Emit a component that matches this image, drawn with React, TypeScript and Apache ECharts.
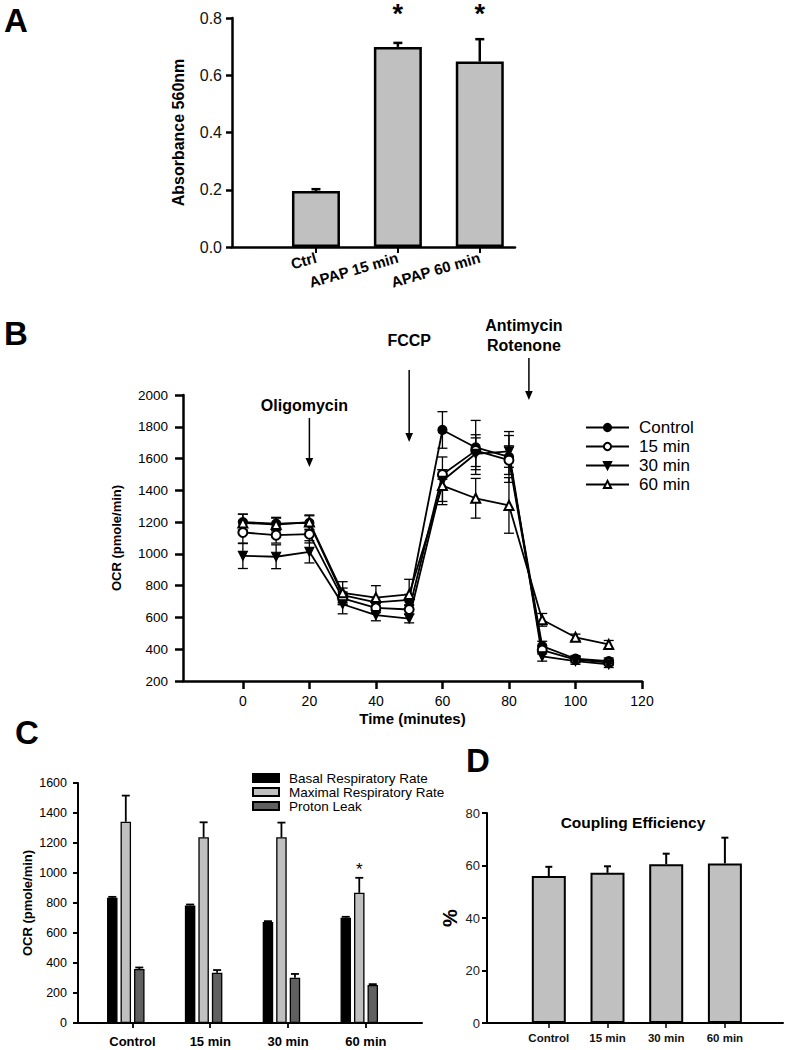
import React, { useEffect, useRef } from 'react';
import * as echarts from 'echarts';

const FONT = '"Liberation Sans", Arial, Helvetica, sans-serif';

// ---------------- Panel A : absorbance ----------------
const categoriesA = ['Ctrl', 'APAP 15 min', 'APAP 60 min'];
const positionsA = [1, 2, 3];
const absorbanceA = [0.196, 0.699, 0.648];
const absorbanceErrA = [0.006, 0.014, 0.078];
const significantA = [false, true, true];

// ---------------- Panel B : OCR time course ----------------
const timeB = [0, 10, 20, 30, 40, 50, 60, 70, 80, 90, 100, 110];
const controlB = [1200, 1190, 1195, 740, 695, 710, 1780, 1670, 1610, 420, 340, 325];
const controlErrB = [50, 40, 45, 45, 30, 35, 115, 170, 160, 30, 20, 20];
const min15B = [1135, 1118, 1124, 720, 660, 650, 1500, 1650, 1590, 395, 335, 315];
const min15ErrB = [70, 50, 55, 40, 30, 30, 30, 100, 90, 25, 20, 15];
const min30B = [988, 982, 1013, 683, 614, 593, 1460, 1630, 1645, 355, 325, 305];
const min30ErrB = [80, 75, 70, 60, 35, 27, 150, 100, 100, 30, 20, 20];
const min60B = [1195, 1185, 1200, 755, 725, 745, 1430, 1350, 1305, 585, 475, 430];
const min60ErrB = [55, 40, 45, 70, 75, 95, 100, 125, 175, 40, 20, 25];
const seriesNamesB = ['Control', '15 min', '30 min', '60 min'];
const ticksB = [0, 20, 40, 60, 80, 100, 120];
// injections (in data units)
const injLabelsB = ['Oligomycin', 'FCCP', 'Antimycin\nRotenone'];
const injTimeB = [20, 50, 86];
const injLabelTimeB = [18.5, 50, 84.5];
const injLabelValueB = [1931, 2346, 2377];
const injArrowTopB = [1855, 2157, 2233];
const injArrowBottomB = [1547, 1704, 1969];

// ---------------- Panel C : respiration parameters ----------------
const categoriesC = ['Control', '15 min', '30 min', '60 min'];
const positionsC = [0, 1, 2, 3];
const seriesNamesC = ['Basal Respiratory Rate', 'Maximal Respiratory Rate', 'Proton Leak'];
const basalC = [835, 784, 673, 702];
const basalErrC = [6, 6, 6, 6];
const maximalC = [1342, 1238, 1238, 868];
const maximalErrC = [174, 100, 98, 100];
const protonC = [360, 335, 302, 253];
const protonErrC = [10, 18, 25, 6];
const significantMaximalC = [false, false, false, true];

// ---------------- Panel D : coupling efficiency ----------------
const categoriesD = ['Control', '15 min', '30 min', '60 min'];
const positionsD = [0, 1, 2, 3];
const couplingD = [56, 57.2, 60.5, 60.8];
const couplingErrD = [3.5, 2.5, 4, 9.8];

// ---------------- styles ----------------
const BLACK = '#000';
const GREY = '#c0c0c0';
const DARK = '#606060';
const C_BAR_W = 10.5;
const C_BAR_GAP = 0.286;
const C_LABEL_SHIFT = 0.085;

function axisStyle(width: number, tickLen: number) {
  return {
    axisLine: { show: true, onZero: false, lineStyle: { color: BLACK, width } },
    axisTick: { show: true, length: tickLen, lineStyle: { color: BLACK, width } },
    splitLine: { show: false },
  };
}

function upErr(cap: number, lw: number, offset: number, stars?: boolean[], starFont?: number, starGap?: number) {
  return (params: any, api: any) => {
    const x = api.value(0);
    const v = api.value(1);
    const e = api.value(2);
    const top = api.coord([x, v + e]);
    const base = api.coord([x, v]);
    const cx = top[0] + offset;
    const children: any[] = [
      { type: 'line', shape: { x1: cx, y1: base[1], x2: cx, y2: top[1] }, style: { stroke: BLACK, lineWidth: lw } },
      { type: 'line', shape: { x1: cx - cap / 2, y1: top[1], x2: cx + cap / 2, y2: top[1] }, style: { stroke: BLACK, lineWidth: lw } },
    ];
    if (stars && stars[params.dataIndex]) {
      children.push({
        type: 'text',
        style: {
          text: '*', x: cx, y: top[1] - (starGap || 0), align: 'center', verticalAlign: 'middle',
          fontSize: starFont, fontFamily: FONT, fill: BLACK,
        },
      });
    }
    return { type: 'group', children };
  };
}

function bothErr(cap: number, lw: number) {
  return (params: any, api: any) => {
    const x = api.value(0);
    const v = api.value(1);
    const e = api.value(2);
    const hi = api.coord([x, v + e]);
    const lo = api.coord([x, v - e]);
    const cx = hi[0];
    return {
      type: 'group',
      children: [
        { type: 'line', shape: { x1: cx, y1: lo[1], x2: cx, y2: hi[1] }, style: { stroke: BLACK, lineWidth: lw } },
        { type: 'line', shape: { x1: cx - cap / 2, y1: hi[1], x2: cx + cap / 2, y2: hi[1] }, style: { stroke: BLACK, lineWidth: lw } },
        { type: 'line', shape: { x1: cx - cap / 2, y1: lo[1], x2: cx + cap / 2, y2: lo[1] }, style: { stroke: BLACK, lineWidth: lw } },
      ],
    };
  };
}

const plain = (v: number) => String(v);

export default function App() {
  const ref = useRef<HTMLDivElement>(null);

  useEffect(() => {
    if (!ref.current) return;
    const chart = echarts.init(ref.current, undefined, { renderer: 'svg' });

    const bValues = [controlB, min15B, min30B, min60B];
    const bErrs = [controlErrB, min15ErrB, min30ErrB, min60ErrB];
    const bSymbols = ['circle', 'emptyCircle', 'triangle', 'emptyTriangle'];
    const bRot = [0, 0, 180, 0];

    const lineSeries = seriesNamesB.map((name, k) => ({
      name,
      type: 'line',
      xAxisIndex: 1,
      yAxisIndex: 1,
      data: timeB.map((t, i) => [t, bValues[k][i]]),
      symbol: bSymbols[k],
      symbolRotate: bRot[k],
      symbolSize: 9,
      showSymbol: true,
      lineStyle: { color: BLACK, width: 1.8 },
      itemStyle: { color: BLACK, borderColor: BLACK, borderWidth: 1.2 },
      z: 5,
    }));
    const lineErrSeries = seriesNamesB.map((name, k) => ({
      type: 'custom',
      xAxisIndex: 1,
      yAxisIndex: 1,
      data: timeB.map((t, i) => [t, bValues[k][i], bErrs[k][i]]),
      renderItem: bothErr(10, 1.3),
      z: 3,
      silent: true,
    }));

    const cVals = [basalC, maximalC, protonC];
    const cErrs = [basalErrC, maximalErrC, protonErrC];
    const cColors = [BLACK, GREY, DARK];
    const cStep = C_BAR_W * (1 + C_BAR_GAP);
    const cBars = seriesNamesC.map((name, k) => ({
      name,
      type: 'bar',
      xAxisIndex: 2,
      yAxisIndex: 2,
      data: positionsC.map((p, i) => [p, cVals[k][i]]),
      barWidth: C_BAR_W,
      barGap: `${C_BAR_GAP * 100}%`,
      itemStyle: { color: cColors[k], borderColor: BLACK, borderWidth: 1.3 },
      z: 2,
    }));
    const cErrSeries = seriesNamesC.map((name, k) => ({
      type: 'custom',
      xAxisIndex: 2,
      yAxisIndex: 2,
      data: positionsC.map((p, i) => [p, cVals[k][i], cErrs[k][i]]),
      renderItem: upErr(8, 1.8, (k - 1) * cStep, k === 1 ? significantMaximalC : undefined, 17, 8),
      z: 4,
      silent: true,
    }));

    const option: any = {
      animation: false,
      backgroundColor: '#fff',
      textStyle: { fontFamily: FONT, color: BLACK },
      grid: [
        { left: 232, top: 18, width: 283, height: 229, outerBoundsMode: 'none' },
        { left: 183, top: 395, width: 459, height: 286, outerBoundsMode: 'none' },
        { left: 78, top: 783, width: 344, height: 240, outerBoundsMode: 'none' },
        { left: 487, top: 813, width: 296, height: 210, outerBoundsMode: 'none' },
      ],
      xAxis: [
        {
          gridIndex: 0, type: 'value', min: -0.025, max: 3.43,
          ...axisStyle(2.5, 6),
          axisTick: { show: true, length: 6, customValues: positionsA, lineStyle: { color: BLACK, width: 2 } },
          axisLabel: {
            customValues: positionsA,
            formatter: (v: number) => categoriesA[positionsA.indexOf(Math.round(v))] ?? '',
            rotate: 16, fontSize: 15, fontWeight: 'bold', color: BLACK, fontFamily: FONT, margin: 10,
          },
        },
        {
          gridIndex: 1, type: 'value', min: -18, max: 120,
          ...axisStyle(2.5, 8),
          axisTick: { show: true, length: 8, customValues: ticksB, lineStyle: { color: BLACK, width: 2.5 } },
          axisLabel: { customValues: ticksB, formatter: plain, fontSize: 14, color: BLACK, fontFamily: FONT, margin: 13 },
          name: 'Time (minutes)', nameLocation: 'middle', nameGap: 30, nameMoveOverlap: false,
          nameTextStyle: { fontSize: 15, fontWeight: 'bold', color: BLACK, fontFamily: FONT },
        },
        {
          gridIndex: 2, type: 'value', min: -0.614, max: 3.806,
          ...axisStyle(2, 5),
          axisTick: { show: true, length: 5, customValues: positionsC.map((p) => p + C_LABEL_SHIFT), lineStyle: { color: BLACK, width: 1.8 } },
          axisLabel: {
            customValues: positionsC.map((p) => p + C_LABEL_SHIFT),
            formatter: (v: number) => categoriesC[Math.round(v - C_LABEL_SHIFT)] ?? '',
            fontSize: 13, fontWeight: 'bold', color: BLACK, fontFamily: FONT, margin: 12,
          },
        },
        {
          gridIndex: 3, type: 'value', min: -1.053, max: 3.99,
          ...axisStyle(2, 5),
          axisTick: { show: true, length: 5, customValues: positionsD, lineStyle: { color: BLACK, width: 1.5 } },
          axisLabel: {
            customValues: positionsD,
            formatter: (v: number) => categoriesD[Math.round(v)] ?? '',
            fontSize: 11.5, fontWeight: 'bold', color: '#111', fontFamily: FONT, margin: 9,
          },
        },
      ],
      yAxis: [
        {
          gridIndex: 0, type: 'value', min: 0, max: 0.8, interval: 0.2,
          ...axisStyle(2.5, 6),
          axisLabel: { formatter: (v: number) => v.toFixed(1), fontSize: 16, color: '#111', fontFamily: FONT, margin: 10 },
          name: 'Absorbance 560nm', nameLocation: 'middle', nameGap: 46, nameRotate: 90, nameMoveOverlap: false,
          nameTextStyle: { fontSize: 16, fontWeight: 'bold', color: BLACK, fontFamily: FONT },
        },
        {
          gridIndex: 1, type: 'value', min: 200, max: 2000, interval: 200,
          ...axisStyle(2.5, 8),
          axisLabel: { formatter: plain, fontSize: 13.5, color: BLACK, fontFamily: FONT, margin: 15 },
          name: 'OCR (pmole/min)', nameLocation: 'middle', nameGap: 60, nameRotate: 90, nameMoveOverlap: false,
          nameTextStyle: { fontSize: 13, fontWeight: 'bold', color: BLACK, fontFamily: FONT },
        },
        {
          gridIndex: 2, type: 'value', min: 0, max: 1600, interval: 200,
          ...axisStyle(2, 5),
          axisLabel: { formatter: plain, fontSize: 12.5, color: BLACK, fontFamily: FONT, margin: 11 },
          name: 'OCR (pmole/min)', nameLocation: 'middle', nameGap: 44, nameRotate: 90, nameMoveOverlap: false,
          nameTextStyle: { fontSize: 13, fontWeight: 'bold', color: BLACK, fontFamily: FONT },
        },
        {
          gridIndex: 3, type: 'value', min: 0, max: 80, interval: 20,
          ...axisStyle(2, 5),
          axisLabel: { formatter: plain, fontSize: 13, color: '#222', fontFamily: FONT, margin: 7 },
          name: '%', nameLocation: 'middle', nameGap: 27, nameRotate: 90, nameMoveOverlap: false,
          nameTextStyle: { fontSize: 20, fontWeight: 'bold', color: BLACK, fontFamily: FONT },
        },
      ],
      legend: [
        {
          data: seriesNamesB, orient: 'vertical', left: 580, top: 413,
          itemWidth: 43, itemHeight: 9, itemGap: 0, selectedMode: false,
          textStyle: { fontSize: 17, lineHeight: 19, color: BLACK, fontFamily: FONT, padding: [0, 0, 0, 5] },
        },
        {
          data: seriesNamesC, orient: 'vertical', left: 247, top: 766, icon: 'rect',
          itemWidth: 26, itemHeight: 8, itemGap: 0, selectedMode: false,
          textStyle: { fontSize: 13.5, lineHeight: 13, color: BLACK, fontFamily: FONT, padding: [0, 0, 0, 5] },
        },
      ],
      graphic: [
        { type: 'text', x: 4, y: 20, style: { text: 'A', fontSize: 33, fontWeight: 'bold', fontFamily: FONT, fill: BLACK, verticalAlign: 'middle' } },
        { type: 'text', x: 4, y: 333, style: { text: 'B', fontSize: 33, fontWeight: 'bold', fontFamily: FONT, fill: BLACK, verticalAlign: 'middle' } },
        { type: 'text', x: 15, y: 732, style: { text: 'C', fontSize: 33, fontWeight: 'bold', fontFamily: FONT, fill: BLACK, verticalAlign: 'middle' } },
        { type: 'text', x: 466, y: 760, style: { text: 'D', fontSize: 33, fontWeight: 'bold', fontFamily: FONT, fill: BLACK, verticalAlign: 'middle' } },
        { type: 'text', x: 633, y: 822, style: { text: 'Coupling Efficiency', fontSize: 15.5, fontWeight: 'bold', fontFamily: FONT, fill: BLACK, align: 'center', verticalAlign: 'middle' } },
      ],
      series: [
        // Panel A
        {
          type: 'bar', xAxisIndex: 0, yAxisIndex: 0,
          data: positionsA.map((p, i) => [p, absorbanceA[i]]),
          barWidth: 48,
          itemStyle: { color: GREY, borderColor: BLACK, borderWidth: 2.5 },
          z: 2,
        },
        {
          type: 'custom', xAxisIndex: 0, yAxisIndex: 0, silent: true, z: 4,
          data: positionsA.map((p, i) => [p, absorbanceA[i], absorbanceErrA[i]]),
          renderItem: (params: any, api: any) => {
            const g: any = upErr(9, 2.5, 0)(params, api);
            if (significantA[params.dataIndex]) {
              const top = api.coord([api.value(0), 0.8]);
              g.children.push({
                type: 'text',
                style: { text: '*', x: top[0], y: top[1] - 4, align: 'center', verticalAlign: 'middle', fontSize: 27, fontWeight: 'bold', fontFamily: FONT, fill: BLACK },
              });
            }
            return g;
          },
        },
        // Panel B
        ...lineErrSeries,
        ...lineSeries,
        {
          type: 'custom', xAxisIndex: 1, yAxisIndex: 1, silent: true, z: 6,
          data: injTimeB.map((t, i) => [t, injArrowTopB[i], injArrowBottomB[i], injLabelTimeB[i], injLabelValueB[i]]),
          renderItem: (params: any, api: any) => {
            const top = api.coord([api.value(0), api.value(1)]);
            const bot = api.coord([api.value(0), api.value(2)]);
            const lab = api.coord([api.value(3), api.value(4)]);
            return {
              type: 'group',
              children: [
                { type: 'line', shape: { x1: top[0], y1: top[1], x2: bot[0], y2: bot[1] - 7 }, style: { stroke: BLACK, lineWidth: 1.5 } },
                { type: 'polygon', shape: { points: [[bot[0] - 3.8, bot[1] - 9], [bot[0] + 3.8, bot[1] - 9], [bot[0], bot[1]]] }, style: { fill: BLACK } },
                {
                  type: 'text',
                  style: {
                    text: injLabelsB[params.dataIndex], x: lab[0], y: lab[1], align: 'center', verticalAlign: 'middle',
                    fontSize: 16, fontWeight: 'bold', fontFamily: FONT, fill: BLACK, lineHeight: 20,
                  },
                },
              ],
            };
          },
        },
        // Panel C
        ...cBars,
        ...cErrSeries,
        // Panel D
        {
          type: 'bar', xAxisIndex: 3, yAxisIndex: 3,
          data: positionsD.map((p, i) => [p, couplingD[i]]),
          barWidth: 34,
          itemStyle: { color: GREY, borderColor: BLACK, borderWidth: 2 },
          z: 2,
        },
        {
          type: 'custom', xAxisIndex: 3, yAxisIndex: 3, silent: true, z: 4,
          data: positionsD.map((p, i) => [p, couplingD[i], couplingErrD[i]]),
          renderItem: upErr(7, 2, 0),
        },
      ],
    };

    chart.setOption(option);
    return () => chart.dispose();
  }, []);

  return (
    <div
      ref={ref}
      style={{ position: 'absolute', left: 0, top: 0, width: 789, height: 1050, background: '#fff' }}
    />
  );
}
